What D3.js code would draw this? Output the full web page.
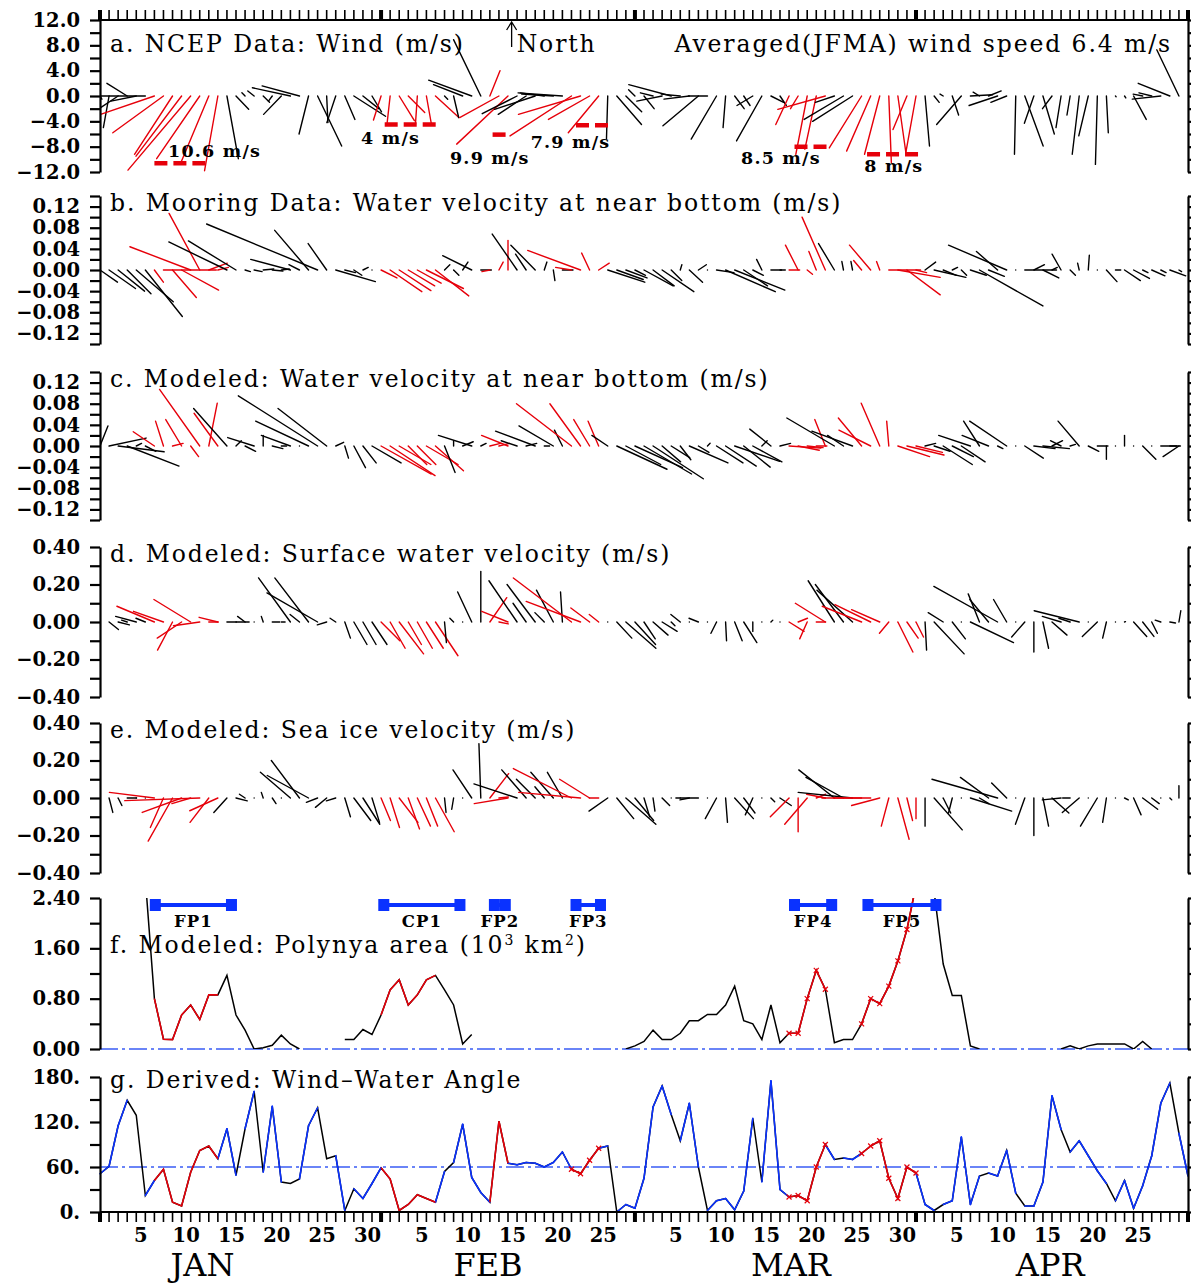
<!DOCTYPE html>
<html>
<head>
<meta charset="utf-8">
<title>Polynya events</title>
<script src="https://cdn.jsdelivr.net/npm/d3@7"></script>
<style>
  body { margin: 0; background: #fff; }
  text { font-family: "DejaVu Serif", serif; }
</style>
</head>
<body>
<svg id="chart" width="1191" height="1283"></svg>
<script>
// ---- data (one value per day, Jan 1 .. Apr 30) ----
const windU = [
  0.3, -0.9, -2.7, -3.2, -4.0, -7.1, -8.5, -8.0, -6.0, -7.2,
  -9.9, -6.8, -4.4, -2.1, 1.8, 2.0, -0.5, -1.0, 1.0, -0.6,
  -2.8, -6.0, -5.9, -1.5, 3.8, 0.2, -1.4, 1.6, 5.0, 2.5,
  1.5, -1.2, -0.5, 2.4, 2.6, -0.3, 0.8, 3.7, 0.5, 0.8,
  -4.6, -6.8, -4.3, 1.6, -6.2, -8.1, -5.5, -4.4, -6.4, -3.8,
  -5.0, -7.0, -9.7, -9.8, -6.5, -4.8, -0.2, 3.9, 2.5, -1.0,
  1.6, -2.0, -4.0, -6.7, -3.0, -4.0, -5.6, -3.0, -4.0, -0.4,
  1.5, 1.0, -2.5, -4.0, 2.0, 1.0, -2.1, -1.2, -1.8, -1.8,
  -7.5, -3.0, -6.2, -6.3, -5.1, -3.8, -2.4, 0.4, 1.3, -2.2,
  -1.6, 0.7, 0.8, -0.5, 1.0, -3.9, 3.5, -1.0, 2.0, -4.5,
  -2.5, -0.2, 2.9, -1.5, 1.8, -1.5, -0.8, -0.5, -1.1, -1.5,
  -0.3, 0.3, 0.1, 0.2, 2.0, -1.5, -2.0, -4.5, -5.0, -3.5
];
const windV = [
  -0.5, -5.0, -1.8, 2.0, -0.8, 0.0, -2.9, -5.8, -9.2, -9.5,
  -11.7, -9.9, -10.5, -11.8, -9.9, -2.1, 0.5, 0.8, -1.0, -0.8,
  -2.9, 1.3, 1.6, -6.0, -7.9, -4.2, -4.2, -3.7, -3.2, -2.0,
  -2.5, -3.8, -4.5, -3.9, -2.6, -4.5, -4.5, -3.4, -0.5, -3.4,
  1.8, 2.5, 8.9, 4.0, -3.4, -7.6, -2.8, -2.9, -2.1, 0.5,
  0.3, 0.5, -6.3, -2.9, -3.7, -5.8, -6.8, -4.5, -2.5, 1.0,
  -2.0, 0.5, -0.8, 1.8, 0.3, -0.5, -4.7, 0.0, -6.8, -5.0,
  -2.0, -1.5, -1.5, -7.1, -1.0, -1.5, -4.5, -2.0, -9.2, -8.4,
  -2.1, -1.0, -3.7, -4.0, -8.2, -8.7, -9.2, -10.5, -9.2, -5.3,
  -8.9, -7.9, -1.0, 0.3, -3.0, -4.5, 0.2, 0.6, 0.8, -1.5,
  -1.0, -9.2, -7.9, -4.3, -6.0, -2.0, -5.0, -3.0, -9.2, -6.3,
  -10.8, -5.8, -0.1, -0.3, -3.7, 0.3, 0.5, -0.5, 2.0, 7.3
];
const mooringU = [
  0.033, 0.05, 0.05, 0.045, 0.07, 0.07, 0.017, 0.1, 0.045, 0.07,
  -0.115, -0.058, 0.035, 0.02, -0.11, -0.09, 0.01, 0.015, 0.02, 0.02,
  0.015, -0.075, -0.02, -0.064, -0.21, -0.035, 0.075, 0.02, 0.015, 0.01,
  0.0, 0.03, 0.06, 0.06, 0.05, 0.045, 0.07, 0.063, 0.01, 0.01,
  0.01, -0.055, 0.02, -0.015, 0.008, 0.0, -0.047, -0.02, -0.046, 0.005,
  0.003, 0.02, -0.03, -0.1, -0.015, 0.02, 0.07, 0.05, 0.04, 0.02,
  0.055, 0.04, 0.06, 0.02, 0.003, 0.025, 0.015, 0.0, 0.033, 0.094,
  0.095, 0.045, 0.02, -0.01, 0.02, 0.01, 0.02, -0.024, 0.01, -0.014,
  -0.044, -0.03, -0.003, -0.003, -0.015, -0.04, -0.006, 0.06, 0.08, 0.063,
  0.02, 0.02, 0.06, 0.025, 0.01, 0.01, 0.03, 0.12, 0.03, -0.04,
  -0.11, 0.0, 0.06, 0.02, 0.03, 0.01, -0.017, 0.01, -0.003, 0.002,
  0.0, 0.02, 0.01, 0.03, 0.03, 0.01, 0.025, 0.01, 0.03, 0.005
];
const mooringV = [
  -0.023, -0.035, -0.04, -0.045, -0.06, -0.088, -0.023, 0.0, -0.052, -0.038,
  0.044, 0.107, 0.013, 0.005, 0.053, 0.055, -0.003, -0.003, 0.002, -0.002,
  0.002, 0.02, 0.01, 0.075, 0.087, 0.05, -0.022, -0.005, -0.01, 0.005,
  0.0, -0.015, -0.041, -0.039, -0.03, -0.025, -0.035, -0.049, 0.01, -0.01,
  0.015, 0.027, 0.0, -0.003, 0.015, 0.056, 0.068, 0.03, 0.047, 0.015,
  -0.02, 0.0, 0.005, 0.037, 0.032, 0.013, -0.023, -0.018, -0.015, -0.01,
  -0.03, -0.03, -0.041, -0.02, 0.01, -0.023, 0.01, 0.0, -0.005, -0.041,
  -0.038, -0.03, -0.01, 0.02, 0.0, 0.0, 0.0, 0.047, -0.008, 0.035,
  0.1, 0.05, 0.016, 0.016, 0.018, 0.047, 0.016, 0.0, -0.014, -0.047,
  -0.005, 0.015, -0.014, -0.01, 0.005, -0.01, -0.01, -0.068, -0.012, 0.035,
  0.047, 0.0, 0.0, 0.01, -0.015, 0.005, 0.03, -0.01, 0.013, 0.028,
  0.0, -0.022, 0.0, -0.02, -0.016, -0.005, -0.011, -0.005, -0.011, -0.003
];
const bottomU = [
  0.015, 0.07, 0.087, 0.098, 0.01, 0.02, -0.04, -0.015, 0.02, -0.03,
  0.015, -0.076, 0.016, -0.045, -0.063, 0.01, 0.02, -0.05, 0.0, 0.02,
  0.01, -0.055, 0.0, -0.1, -0.15, -0.092, 0.015, 0.007, 0.022, 0.025,
  0.055, 0.095, 0.085, 0.06, 0.035, 0.035, 0.06, 0.053, 0.02, 0.0,
  0.02, -0.063, 0.01, 0.02, 0.02, -0.05, -0.03, 0.02, -0.075, 0.01,
  -0.065, -0.015, -0.104, -0.058, -0.03, -0.02, -0.03, 0.095, 0.066, 0.09,
  0.09, 0.095, 0.035, 0.035, 0.02, 0.073, 0.02, 0.005, 0.05, 0.058,
  0.085, 0.05, 0.055, 0.01, -0.04, 0.02, 0.06, 0.04, 0.03, 0.02,
  -0.02, -0.09, -0.03, -0.077, -0.044, -0.06, -0.035, -0.004, 0.06, 0.07,
  0.05, 0.02, 0.03, 0.055, 0.04, 0.045, -0.06, -0.03, -0.05, 0.01,
  -0.07, 0.0, 0.035, 0.04, 0.05, 0.02, -0.02, 0.01, -0.04, 0.02,
  0.02, 0.0, 0.0, 0.0, 0.0, 0.025, 0.0, 0.03, 0.02, -0.03
];
const bottomV = [
  0.038, 0.015, -0.011, -0.038, 0.005, -0.01, 0.027, 0.047, 0.005, 0.05,
  -0.02, 0.107, 0.081, 0.062, 0.071, 0.01, -0.01, 0.016, 0.02, -0.005,
  0.0, 0.02, 0.0, 0.047, 0.095, 0.071, 0.007, -0.023, -0.041, -0.032,
  -0.032, -0.053, -0.056, -0.035, -0.035, -0.035, -0.035, -0.047, -0.05, 0.01,
  0.008, 0.02, 0.005, 0.005, 0.005, 0.02, 0.01, 0.005, 0.028, 0.0,
  0.038, 0.03, 0.08, 0.08, 0.05, 0.047, 0.02, -0.044, -0.035, -0.041,
  -0.053, -0.062, -0.03, -0.022, -0.026, -0.032, -0.012, 0.005, -0.032, -0.038,
  -0.029, -0.04, -0.03, 0.01, 0.032, 0.005, -0.004, -0.008, -0.003, 0.0,
  0.05, 0.053, 0.02, 0.028, 0.053, 0.03, 0.081, 0.047, -0.02, -0.017,
  -0.012, 0.005, -0.01, -0.035, -0.02, -0.03, 0.02, 0.047, 0.02, -0.005,
  0.047, 0.0, -0.023, -0.005, -0.005, 0.01, 0.01, 0.003, 0.047, -0.01,
  0.0, -0.025, 0.0, 0.02, 0.0, -0.025, 0.0, 0.0, 0.0, -0.02
];
const surfaceU = [
  0.0, 0.05, 0.06, -0.03, -0.11, -0.05, -0.2, -0.16, -0.08, -0.13,
  -0.196, -0.14, 0.05, -0.1, 0.05, 0.07, -0.04, 0.0, -0.01, 0.04,
  0.02, -0.17, -0.05, -0.18, -0.27, -0.05, -0.03, 0.03, 0.07, 0.07,
  0.08, 0.1, 0.08, 0.13, 0.07, 0.08, 0.09, 0.12, 0.01, -0.02,
  0.0, -0.075, 0.0, 0.09, 0.05, -0.14, -0.15, -0.07, -0.15, -0.05,
  -0.09, -0.01, -0.31, -0.29, -0.1, -0.05, 0.0, 0.08, 0.16, 0.11,
  0.06, 0.08, 0.08, 0.02, -0.05, 0.0, -0.05, 0.0, -0.03, 0.005,
  0.04, 0.07, 0.0, 0.0, 0.01, 0.0, 0.08, 0.05, -0.04, 0.05,
  -0.16, -0.14, -0.15, -0.19, -0.21, -0.19, -0.15, -0.05, 0.08, 0.06,
  0.04, 0.008, 0.16, -0.08, 0.07, 0.0, 0.23, -0.06, -0.1, -0.34,
  -0.07, 0.0, -0.07, 0.0, 0.03, 0.08, -0.1, -0.06, -0.24, 0.0,
  -0.08, -0.02, 0.0, 0.005, 0.07, 0.06, 0.03, -0.03, 0.03, 0.01
];
const surfaceV = [
  0.0, -0.04, -0.015, 0.01, 0.03, 0.02, 0.084, 0.057, -0.15, -0.086,
  0.12, -0.02, 0.0, 0.025, 0.0, 0.0, 0.03, 0.0, 0.03, 0.0,
  0.0, 0.235, 0.04, 0.235, 0.155, -0.015, 0.02, -0.086, -0.12, -0.12,
  -0.12, -0.1, -0.14, -0.17, -0.12, -0.14, -0.14, -0.18, -0.11, 0.02,
  0.0, 0.16, 0.27, 0.13, -0.01, 0.057, 0.22, 0.1, 0.2, 0.05,
  0.17, 0.16, 0.235, 0.11, 0.075, 0.04, 0.0, -0.086, -0.14, -0.12,
  -0.09, -0.07, -0.05, -0.02, 0.04, 0.0, 0.02, 0.0, -0.06, -0.1,
  -0.1, -0.11, -0.05, 0.0, 0.01, 0.0, -0.05, 0.02, -0.09, 0.0,
  0.1, 0.22, 0.2, 0.17, 0.084, 0.093, 0.066, -0.06, -0.16, -0.086,
  -0.08, -0.15, -0.17, 0.05, -0.09, 0.0, -0.11, 0.15, 0.12, 0.19,
  0.12, 0.0, -0.08, -0.16, -0.14, -0.07, 0.03, 0.02, 0.06, 0.0,
  -0.077, -0.086, 0.0, 0.002, -0.077, -0.077, -0.06, 0.01, -0.005, 0.06
];
const iceU = [
  0.0, 0.02, 0.02, 0.05, 0.0, 0.0, -0.24, -0.07, -0.13, -0.21,
  -0.1, -0.4, -0.1, -0.15, -0.07, 0.06, -0.03, 0.0, -0.01, 0.02,
  0.0, -0.16, -0.15, -0.22, -0.06, -0.06, -0.05, 0.03, 0.09, 0.09,
  0.04, 0.05, 0.05, 0.1, 0.06, 0.07, 0.06, 0.1, 0.008, -0.01,
  0.0, -0.1, -0.01, 0.1, 0.05, -0.18, -0.23, -0.13, -0.1, -0.05,
  -0.12, -0.08, -0.31, -0.33, -0.16, -0.05, -0.1, 0.09, 0.16, 0.1,
  0.03, 0.01, 0.04, 0.0, 0.0, -0.05, -0.12, 0.0, -0.06, 0.01,
  0.1, 0.06, -0.04, 0.0, 0.02, 0.06, -0.1, 0.0, -0.12, 0.05,
  -0.1, -0.19, -0.2, -0.29, -0.15, -0.26, -0.15, -0.04, 0.06, 0.03,
  0.0, 0.0, 0.15, 0.04, -0.02, 0.0, 0.22, 0.05, -0.15, -0.35,
  -0.08, 0.0, -0.05, 0.0, 0.03, 0.09, -0.1, -0.04, -0.09, 0.0,
  -0.09, -0.02, 0.0, 0.02, 0.04, 0.08, 0.04, 0.0, 0.01, 0.0
];
const iceV = [
  0.0, -0.077, -0.04, 0.0, 0.0, 0.0, 0.03, -0.157, -0.23, -0.077,
  -0.03, -0.014, -0.13, -0.068, -0.077, -0.015, 0.02, 0.0, 0.03, -0.03,
  0.0, 0.137, 0.2, 0.12, -0.023, -0.05, -0.015, -0.1, -0.12, -0.14,
  -0.13, -0.12, -0.157, -0.13, -0.165, -0.15, -0.15, -0.18, -0.077, -0.06,
  0.0, 0.15, 0.29, 0.13, 0.005, -0.03, 0.075, 0.15, 0.1, 0.06,
  0.137, 0.137, 0.157, 0.03, 0.1, 0.0, -0.07, -0.11, -0.14, -0.12,
  -0.1, -0.07, -0.04, 0.0, 0.0, -0.01, 0.0, 0.0, -0.11, -0.13,
  -0.11, -0.08, -0.09, 0.0, -0.02, -0.04, -0.1, -0.18, -0.14, 0.02,
  0.02, 0.15, 0.11, 0.03, 0.0, 0.0, -0.04, -0.15, -0.22, -0.12,
  -0.11, -0.15, -0.17, -0.08, -0.08, 0.0, -0.07, -0.03, 0.11, 0.1,
  0.08, 0.0, -0.14, -0.2, -0.15, -0.08, -0.01, 0.0, -0.077, 0.0,
  -0.15, -0.13, 0.0, -0.01, -0.09, -0.06, -0.03, 0.0, -0.01, 0.066
];
// polynya area (10^3 km^2), null = no polynya
const polynyaArea = [
  null, null, null, null, null, 2.7, 0.80, 0.155, 0.15, 0.54,
  0.70, 0.47, 0.86, 0.86, 1.17, 0.54, 0.30, 0.0, 0.02, 0.06,
  0.22, 0.08, 0.0, null, null, null, null, 0.15, 0.15, 0.31,
  0.23, 0.54, 0.94, 1.10, 0.70, 0.86, 1.10, 1.17, 0.94, 0.70,
  0.08, 0.23, null, null, null, null, null, null, null, null,
  null, null, null, null, null, null, null, null, 0.0, 0.05,
  0.12, 0.30, 0.15, 0.15, 0.25, 0.45, 0.45, 0.55, 0.55, 0.70,
  1.00, 0.45, 0.40, 0.15, 0.70, 0.10, 0.25, 0.25, 0.80, 1.25,
  0.95, 0.10, 0.15, 0.15, 0.40, 0.80, 0.72, 1.00, 1.40, 1.90,
  2.60, 2.80, 2.50, 1.35, 0.85, 0.85, 0.05, 0.0, null, null,
  null, null, null, null, null, null, 0.0, 0.05, 0.0, 0.05,
  0.08, 0.08, 0.08, 0.08, 0.0, 0.12, 0.0, null, null, null
];
// wind-water angle (degrees), Jan 1 .. May 1
const windWaterAngle = [
  51, 61, 115, 149, 129, 22, 42, 57, 13, 8,
  53, 82, 88, 71, 111, 49, 111, 161, 53, 141,
  40, 38, 44, 115, 139, 71, 75, 2, 31, 18,
  38, 59, 44, 2, 10, 23, 18, 13, 54, 66,
  117, 46, 26, 13, 121, 65, 63, 66, 65, 60,
  66, 80, 57, 51, 69, 85, 88, 0, 10, 5,
  45, 140, 168, 130, 95, 145, 60, 2, 15, 18,
  3, 28, 125, 40, 175, 30, 20, 22, 15, 60,
  90, 70, 72, 70, 78, 88, 95, 45, 18, 60,
  52, 10, 2, 10, 15, 100, 10, 48, 52, 48,
  82, 25, 8, 8, 40, 155, 110, 80, 95, 75,
  55, 38, 15, 42, 5, 35, 75, 145, 172, 105,
  48
];
// segments of the angle curve where only the black curve shows
const angleBlackSegments = [3, 4, 15, 17, 20, 21, 24, 25, 27, 38, 56, 63, 66, 72, 81, 92, 97, 101, 106, 111, 118];

// polynya events: bar extent (day index) and red day range
const events = [
  { name: 'FP1', bar0: 6.1, bar1: 14.5, r0: 6, r1: 13, marks: false },
  { name: 'CP1', bar0: 31.3, bar1: 39.7, r0: 31, r1: 37, marks: false },
  { name: 'FP2', bar0: 43.5, bar1: 44.7, r0: 43, r1: 45, marks: false },
  { name: 'FP3', bar0: 52.5, bar1: 55.2, r0: 52, r1: 55, marks: true },
  { name: 'FP4', bar0: 76.6, bar1: 80.7, r0: 76, r1: 80, marks: true },
  { name: 'FP5', bar0: 84.7, bar1: 92.2, r0: 84, r1: 90, marks: true }
];
// mean wind speed notes in panel a
const windNotes = [
  { label: '10.6 m/s', d0: 6.0, d1: 11.9, level: -10.6, tx: 7.5, ty: -8.7 },
  { label: '4 m/s', d0: 31.4, d1: 37.3, level: -4.5, tx: 28.8, ty: -6.6 },
  { label: '9.9 m/s', d0: 43.3, d1: 44.8, level: -6.1, tx: 38.6, ty: -9.8 },
  { label: '7.9 m/s', d0: 52.5, d1: 56.1, level: -4.6, tx: 47.5, ty: -7.3 },
  { label: '8.5 m/s', d0: 76.6, d1: 80.2, level: -8.0, tx: 70.7, ty: -9.8 },
  { label: '8 m/s', d0: 84.6, d1: 90.6, level: -9.2, tx: 84.3, ty: -11.1 }
];
const months = ['JAN', 'FEB', 'MAR', 'APR'];
const monthStart = [0, 31, 59, 90, 120];
const monthLabelAt = [11.3, 42.8, 76.2, 104.8];
const dayLabels = [[5, 10, 15, 20, 25, 30], [5, 10, 15, 20, 25], [5, 10, 15, 20, 25, 30], [5, 10, 15, 20, 25]];

// ---- layout ----
const svg = d3.select('#chart');
const left = 100, right = 1188;
const RED = '#e6000a', BLUE = '#0a32ff', DASHBLUE = '#3a5cf5';
const x = d3.scaleLinear().domain([0, 120]).range([left, right]);
svg.append('rect').attr('width', 1191).attr('height', 1283).attr('fill', '#fff');

const isRed = i => events.some(e => i >= e.r0 && i <= e.r1);

const drawYAxes = function (y, step, labelStep, fmt) {
  const [d0, d1] = y.domain();
  const vals = d3.range(Math.round((d1 - d0) / step) + 1).map(k => +(d0 + k * step).toFixed(4));
  const lab = v => Math.abs(v / labelStep - Math.round(v / labelStep)) < 1e-6;
  const la = d3.axisLeft(y).tickValues(vals).tickSize(10).tickSizeOuter(0).tickPadding(10)
    .tickFormat(v => lab(v) ? fmt(v) : '');
  const gl = svg.append('g').attr('transform', `translate(${left},0)`).call(la);
  const ra = d3.axisRight(y).tickValues(vals).tickSize(10).tickSizeOuter(0).tickFormat('');
  const gr = svg.append('g').attr('transform', `translate(${right},0)`).call(ra);
  [gl, gr].forEach(g => {
    g.selectAll('path, line').attr('stroke', '#000').attr('stroke-width', 2.2);
  });
  gl.selectAll('text').attr('font-family', '"DejaVu Serif", serif').attr('font-weight', 'bold')
    .attr('font-size', 19.5).attr('fill', '#000');
};

// titles use a wide serif, as in the original
const title = function (txt, y) {
  return svg.append('text').attr('x', 110).attr('y', y).attr('font-size', 23.5)
    .attr('letter-spacing', 1.9).attr('fill', '#000').text(txt);
};

// ---- stick panels ----
const stickPanels = [
  { u: windU, v: windV, domain: [-12, 12], top: 20, bottom: 172, step: 2, lab: 4, fmt: d3.format('.1f'), title: 'a. NCEP Data: Wind (m/s)' },
  { u: mooringU, v: mooringV, domain: [-0.14, 0.14], top: 196, bottom: 344, step: 0.02, lab: 0.04, fmt: d3.format('.2f'), title: 'b. Mooring Data: Water velocity at near bottom (m/s)' },
  { u: bottomU, v: bottomV, domain: [-0.14, 0.14], top: 372, bottom: 520, step: 0.02, lab: 0.04, fmt: d3.format('.2f'), title: 'c. Modeled: Water velocity at near bottom (m/s)' },
  { u: surfaceU, v: surfaceV, domain: [-0.4, 0.4], top: 547, bottom: 697, step: 0.1, lab: 0.2, fmt: d3.format('.2f'), title: 'd. Modeled: Surface water velocity (m/s)' },
  { u: iceU, v: iceV, domain: [-0.4, 0.4], top: 723, bottom: 873, step: 0.1, lab: 0.2, fmt: d3.format('.2f'), title: 'e. Modeled: Sea ice velocity (m/s)' }
];

stickPanels.forEach((p, pi) => {
  const y = d3.scaleLinear().domain(p.domain).range([p.bottom, p.top]);
  const k = y(0) - y(1);
  const cid = 'clip' + pi;
  svg.append('clipPath').attr('id', cid).append('rect')
    .attr('x', left).attr('y', p.top).attr('width', right - left).attr('height', p.bottom - p.top);
  const sticks = p.u.map((u, i) => ({ i, u, v: p.v[i] }));
  svg.append('g').attr('clip-path', `url(#${cid})`)
    .selectAll('line').data(sticks).join('line')
    .attr('x1', d => x(d.i)).attr('y1', y(0))
    .attr('x2', d => x(d.i) + d.u * k).attr('y2', d => y(d.v))
    .attr('stroke', d => isRed(d.i) ? RED : '#000')
    .attr('stroke-width', 1.4).attr('stroke-linecap', 'round');
  drawYAxes(y, p.step, p.lab, p.fmt);
  title(p.title, p.top + (pi === 0 ? 32 : 15));
});

// panel a extras: top day axis, notes
{
  const p = stickPanels[0];
  const y = d3.scaleLinear().domain(p.domain).range([p.bottom, p.top]);
  const top = svg.append('g');
  top.append('line').attr('x1', left).attr('x2', right).attr('y1', p.top).attr('y2', p.top)
    .attr('stroke', '#000').attr('stroke-width', 2.2);
  top.selectAll('.tk').data(d3.range(121)).join('line')
    .attr('x1', d => x(d)).attr('x2', d => x(d)).attr('y1', p.top).attr('y2', p.top - 10)
    .attr('stroke', '#000').attr('stroke-width', d => monthStart.includes(d) ? 4 : 1.6);

  const notes = svg.append('g');
  notes.selectAll('line').data(windNotes).join('line')
    .attr('x1', d => x(d.d0)).attr('x2', d => x(d.d1))
    .attr('y1', d => y(d.level)).attr('y2', d => y(d.level))
    .attr('stroke', RED).attr('stroke-width', 4.5).attr('stroke-dasharray', '13,6');
  notes.selectAll('text').data(windNotes).join('text')
    .attr('x', d => x(d.tx)).attr('y', d => y(d.ty)).attr('dy', '0.35em')
    .attr('font-size', 17.5).attr('letter-spacing', 1.2).attr('font-weight', 'bold').text(d => d.label);

  // North arrow
  const nx = x(45.4);
  svg.append('path').attr('d', `M${nx},47 L${nx},22 M${nx - 5},30 L${nx},22 L${nx + 5},30`)
    .attr('stroke', '#000').attr('stroke-width', 1.3).attr('fill', 'none');
  svg.append('text').attr('x', nx + 5).attr('y', 52).attr('font-size', 23.5).attr('letter-spacing', 1.9).text('North');
  svg.append('text').attr('x', 1172).attr('y', 52).attr('text-anchor', 'end').attr('font-size', 23.5)
    .attr('letter-spacing', 1.9).text('Averaged(JFMA) wind speed 6.4 m/s');
}

// ---- f: polynya area ----
{
  const top = 898, bottom = 1049;
  const y = d3.scaleLinear().domain([0, 2.4]).range([bottom, top]);
  svg.append('clipPath').attr('id', 'clipf').append('rect')
    .attr('x', left).attr('y', top).attr('width', right - left).attr('height', bottom - top);
  svg.append('line').attr('x1', left).attr('x2', right).attr('y1', y(0)).attr('y2', y(0))
    .attr('stroke', DASHBLUE).attr('stroke-width', 1.6).attr('stroke-dasharray', '18,4,3,4');
  const line = d3.line().defined(d => d != null).x((d, i) => x(i)).y(d => y(d));
  const gf = svg.append('g').attr('clip-path', 'url(#clipf)');
  gf.append('path').attr('d', line(polynyaArea)).attr('fill', 'none').attr('stroke', '#000').attr('stroke-width', 1.5);
  events.forEach(e => {
    const seg = polynyaArea.map((d, i) => (i >= e.r0 && i <= e.r1) ? d : null);
    gf.append('path').attr('d', line(seg)).attr('fill', 'none').attr('stroke', RED).attr('stroke-width', 1.6);
    if (e.marks) {
      gf.selectAll(null).data(seg.map((d, i) => [i, d]).filter(d => d[1] != null)).join('path')
        .attr('d', d => `M${x(d[0]) - 2.5},${y(d[1]) - 2.5}l5,5m0,-5l-5,5`)
        .attr('stroke', RED).attr('stroke-width', 1.2);
    }
  });
  drawYAxes(y, 0.4, 0.8, d3.format('.2f'));
  // event bars
  const bars = svg.append('g');
  events.forEach(e => {
    bars.append('line').attr('x1', x(e.bar0)).attr('x2', x(e.bar1)).attr('y1', 905).attr('y2', 905)
      .attr('stroke', BLUE).attr('stroke-width', 4);
    [e.bar0, e.bar1].forEach(b => bars.append('rect').attr('x', x(b) - 5.5).attr('y', 899)
      .attr('width', 11).attr('height', 12).attr('fill', BLUE));
    bars.append('text').attr('x', x((e.bar0 + e.bar1) / 2)).attr('y', 927).attr('text-anchor', 'middle')
      .attr('font-size', 16.5).attr('letter-spacing', 1).attr('font-weight', 'bold').text(e.name);
  });
  const t = title('f. Modeled: Polynya area (10', 953);
  t.append('tspan').attr('dy', -8).attr('font-size', 14).text('3');
  t.append('tspan').attr('dy', 8).text(' km');
  t.append('tspan').attr('dy', -8).attr('font-size', 14).text('2');
  t.append('tspan').attr('dy', 8).text(')');
}

// ---- g: wind-water angle ----
{
  const top = 1077, bottom = 1212;
  const y = d3.scaleLinear().domain([0, 180]).range([bottom, top]);
  svg.append('line').attr('x1', left).attr('x2', right).attr('y1', y(60)).attr('y2', y(60))
    .attr('stroke', DASHBLUE).attr('stroke-width', 1.6).attr('stroke-dasharray', '18,4,3,4');
  const gx = i => left + (right - left) * i / (windWaterAngle.length - 1);
  const line = d3.line().defined(d => d != null).x((d, i) => gx(i)).y(d => y(d));
  const gg = svg.append('g');
  gg.append('path').attr('d', line(windWaterAngle)).attr('fill', 'none').attr('stroke', '#000').attr('stroke-width', 1.5);
  const segs = d3.range(windWaterAngle.length - 1)
    .filter(i => !angleBlackSegments.includes(i) && !events.some(e => i >= e.r0 && i < e.r1));
  gg.selectAll('.bl').data(segs).join('line')
    .attr('x1', i => gx(i)).attr('x2', i => gx(i + 1))
    .attr('y1', i => y(windWaterAngle[i])).attr('y2', i => y(windWaterAngle[i + 1]))
    .attr('stroke', BLUE).attr('stroke-width', 1.6).attr('stroke-linecap', 'round');
  events.forEach(e => {
    const seg = windWaterAngle.map((d, i) => (i >= e.r0 && i <= e.r1) ? d : null);
    gg.append('path').attr('d', line(seg)).attr('fill', 'none').attr('stroke', RED).attr('stroke-width', 1.6);
    if (e.marks) {
      gg.selectAll(null).data(seg.map((d, i) => [i, d]).filter(d => d[1] != null)).join('path')
        .attr('d', d => `M${gx(d[0]) - 2.5},${y(d[1]) - 2.5}l5,5m0,-5l-5,5`)
        .attr('stroke', RED).attr('stroke-width', 1.2);
    }
  });
  drawYAxes(y, 30, 60, v => v.toFixed(0) + '.');
  title('g. Derived: Wind\u2013Water Angle', 1088);

  // bottom day axis
  const bx = svg.append('g');
  bx.append('line').attr('x1', left).attr('x2', right).attr('y1', bottom).attr('y2', bottom)
    .attr('stroke', '#000').attr('stroke-width', 2.2);
  bx.selectAll('.tk').data(d3.range(121)).join('line')
    .attr('x1', d => x(d)).attr('x2', d => x(d)).attr('y1', bottom).attr('y2', bottom + 10)
    .attr('stroke', '#000').attr('stroke-width', d => monthStart.includes(d) ? 4 : 1.6);
  const dl = [];
  dayLabels.forEach((arr, m) => arr.forEach(d => dl.push({ d, pos: monthStart[m] + d - 0.5 })));
  bx.selectAll('.dl').data(dl).join('text')
    .attr('x', d => x(d.pos)).attr('y', 1242).attr('text-anchor', 'middle')
    .attr('font-size', 19.5).attr('font-weight', 'bold').text(d => d.d);
  bx.selectAll('.ml').data(months).join('text')
    .attr('x', (d, i) => x(monthLabelAt[i])).attr('y', 1276).attr('text-anchor', 'middle')
    .attr('font-family', '"Liberation Serif", serif').attr('font-size', 32).text(d => d);
}
</script>
</body>
</html>
